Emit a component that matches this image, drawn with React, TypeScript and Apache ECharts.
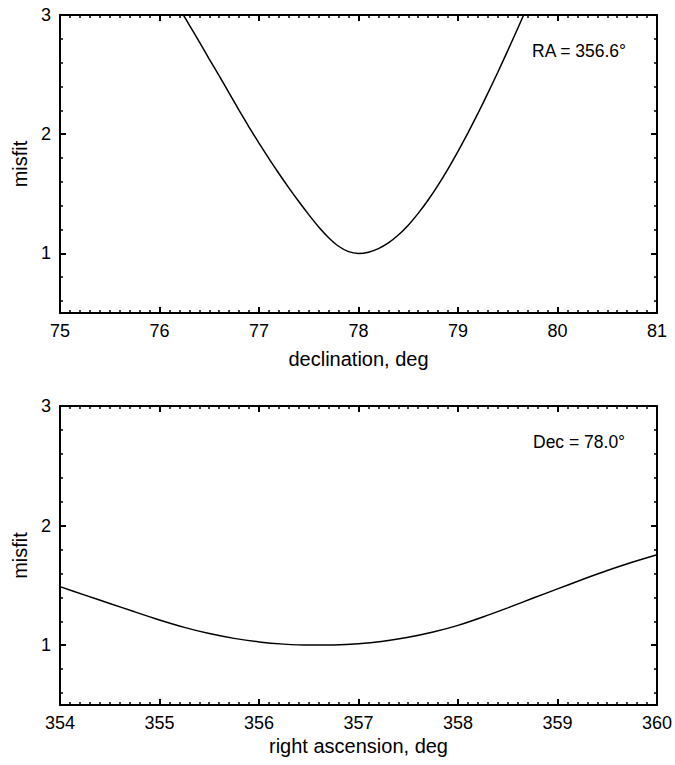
import React, { useEffect, useRef } from "react";
import * as echarts from "echarts";

// Top panel: misfit vs declination (RA = 356.6°)
const decX = [76.24, 76.3, 76.4, 76.5, 76.6, 76.7, 76.8, 76.9, 77.0, 77.1, 77.2, 77.3, 77.4, 77.5, 77.6, 77.7, 77.8, 77.9, 78.0, 78.1, 78.2, 78.3, 78.4, 78.5, 78.6, 78.7, 78.8, 78.9, 79.0, 79.1, 79.2, 79.3, 79.4, 79.5, 79.6, 79.66];
const decMisfit = [3.0, 2.915, 2.775, 2.63, 2.49, 2.345, 2.2, 2.06, 1.925, 1.795, 1.67, 1.55, 1.435, 1.325, 1.222, 1.132, 1.06, 1.015, 1.0, 1.01, 1.04, 1.088, 1.154, 1.237, 1.336, 1.448, 1.573, 1.71, 1.856, 2.011, 2.174, 2.344, 2.52, 2.701, 2.887, 3.0];

// Bottom panel: misfit vs right ascension (Dec = 78.0°)
const raX = [354.0, 354.25, 354.5, 354.75, 355.0, 355.25, 355.5, 355.75, 356.0, 356.25, 356.5, 356.75, 357.0, 357.25, 357.5, 357.75, 358.0, 358.25, 358.5, 358.75, 359.0, 359.25, 359.5, 359.75, 360.0];
const raMisfit = [1.49, 1.419, 1.349, 1.279, 1.211, 1.149, 1.097, 1.057, 1.027, 1.009, 1.001, 1.002, 1.012, 1.034, 1.066, 1.11, 1.166, 1.236, 1.312, 1.392, 1.471, 1.549, 1.624, 1.693, 1.757];

// Axis ranges / ticks
const decRange = [75, 81];
const raRange = [354, 360];
const misfitRange = [0.5, 3];
const misfitMajorTicks = [1, 2, 3];
const misfitMinorTicks = [0.6, 0.8, 1.2, 1.4, 1.6, 1.8, 2.2, 2.4, 2.6, 2.8];

const FONT = "Liberation Sans, Arial, Helvetica, sans-serif";

function xAxes(gridIndex: number, range: number[], name: string, nameGap: number) {
  const common = {
    type: "value",
    gridIndex,
    min: range[0],
    max: range[1],
    interval: 1,
    splitLine: { show: false },
    axisLine: { onZero: false, lineStyle: { color: "#000", width: 2 } },
    axisTick: { inside: true, length: 6, lineStyle: { color: "#000", width: 2 } },
    minorTick: { show: true, splitNumber: 10, length: 3, lineStyle: { color: "#000", width: 1.5 } },
  };
  return [
    {
      ...common,
      position: "bottom",
      axisLabel: { color: "#000", fontSize: 18, fontFamily: FONT, margin: 9 },
      name,
      nameLocation: "middle",
      nameGap,
      nameTextStyle: { color: "#000", fontSize: 20, fontFamily: FONT },
    },
    { ...common, position: "top", axisLabel: { show: false } },
  ];
}

function yAxes(gridIndex: number) {
  const base = {
    type: "value",
    gridIndex,
    min: misfitRange[0],
    max: misfitRange[1],
    splitLine: { show: false },
  };
  const major = (position: string, label: boolean) => ({
    ...base,
    position,
    axisLine: { show: true, onZero: false, lineStyle: { color: "#000", width: 2 } },
    axisTick: { show: true, inside: true, length: 6, customValues: misfitMajorTicks, lineStyle: { color: "#000", width: 2 } },
    axisLabel: label
      ? { show: true, customValues: misfitMajorTicks, color: "#000", fontSize: 18, fontFamily: FONT, margin: 9 }
      : { show: false },
    ...(label
      ? {
          name: "misfit",
          nameLocation: "middle",
          nameGap: 30,
          nameRotate: 90,
          nameTextStyle: { color: "#000", fontSize: 20, fontFamily: FONT },
        }
      : {}),
  });
  const minor = (position: string) => ({
    ...base,
    position,
    axisLine: { show: false },
    axisTick: { show: true, inside: true, length: 3, customValues: misfitMinorTicks, lineStyle: { color: "#000", width: 1.5 } },
    axisLabel: { show: false },
  });
  return [major("left", true), minor("left"), major("right", false), minor("right")];
}

export default function App() {
  const ref = useRef<HTMLDivElement>(null);
  useEffect(() => {
    if (!ref.current) return;
    const chart = echarts.init(ref.current, null, { renderer: "svg" });
    chart.setOption({
      animation: false,
      backgroundColor: "#fff",
      grid: [
        { left: 60, right: 18, top: 15, height: 298 },
        { left: 60, right: 18, top: 406, height: 299 },
      ],
      xAxis: [...xAxes(0, decRange, "declination, deg", 36), ...xAxes(1, raRange, "right ascension, deg", 31)],
      yAxis: [...yAxes(0), ...yAxes(1)],
      series: [
        {
          type: "line",
          xAxisIndex: 0,
          yAxisIndex: 0,
          data: decX.map((x, i) => [x, decMisfit[i]]),
          showSymbol: false,
          smooth: 0.25,
          clip: true,
          lineStyle: { color: "#000", width: 1.5 },
        },
        {
          type: "line",
          xAxisIndex: 2,
          yAxisIndex: 4,
          data: raX.map((x, i) => [x, raMisfit[i]]),
          showSymbol: false,
          smooth: 0.25,
          clip: true,
          lineStyle: { color: "#000", width: 1.5 },
        },
      ],
      graphic: [
        {
          type: "text",
          left: 532,
          top: 42,
          style: { text: "RA = 356.6°", fontSize: 17.5, fontFamily: FONT, fill: "#000" },
        },
        {
          type: "text",
          left: 533,
          top: 433,
          style: { text: "Dec = 78.0°", fontSize: 17.5, fontFamily: FONT, fill: "#000" },
        },
      ],
    });
    return () => chart.dispose();
  }, []);
  return (
    <div
      ref={ref}
      style={{ position: "fixed", left: 0, top: 0, width: 675, height: 765, background: "#fff" }}
    />
  );
}
